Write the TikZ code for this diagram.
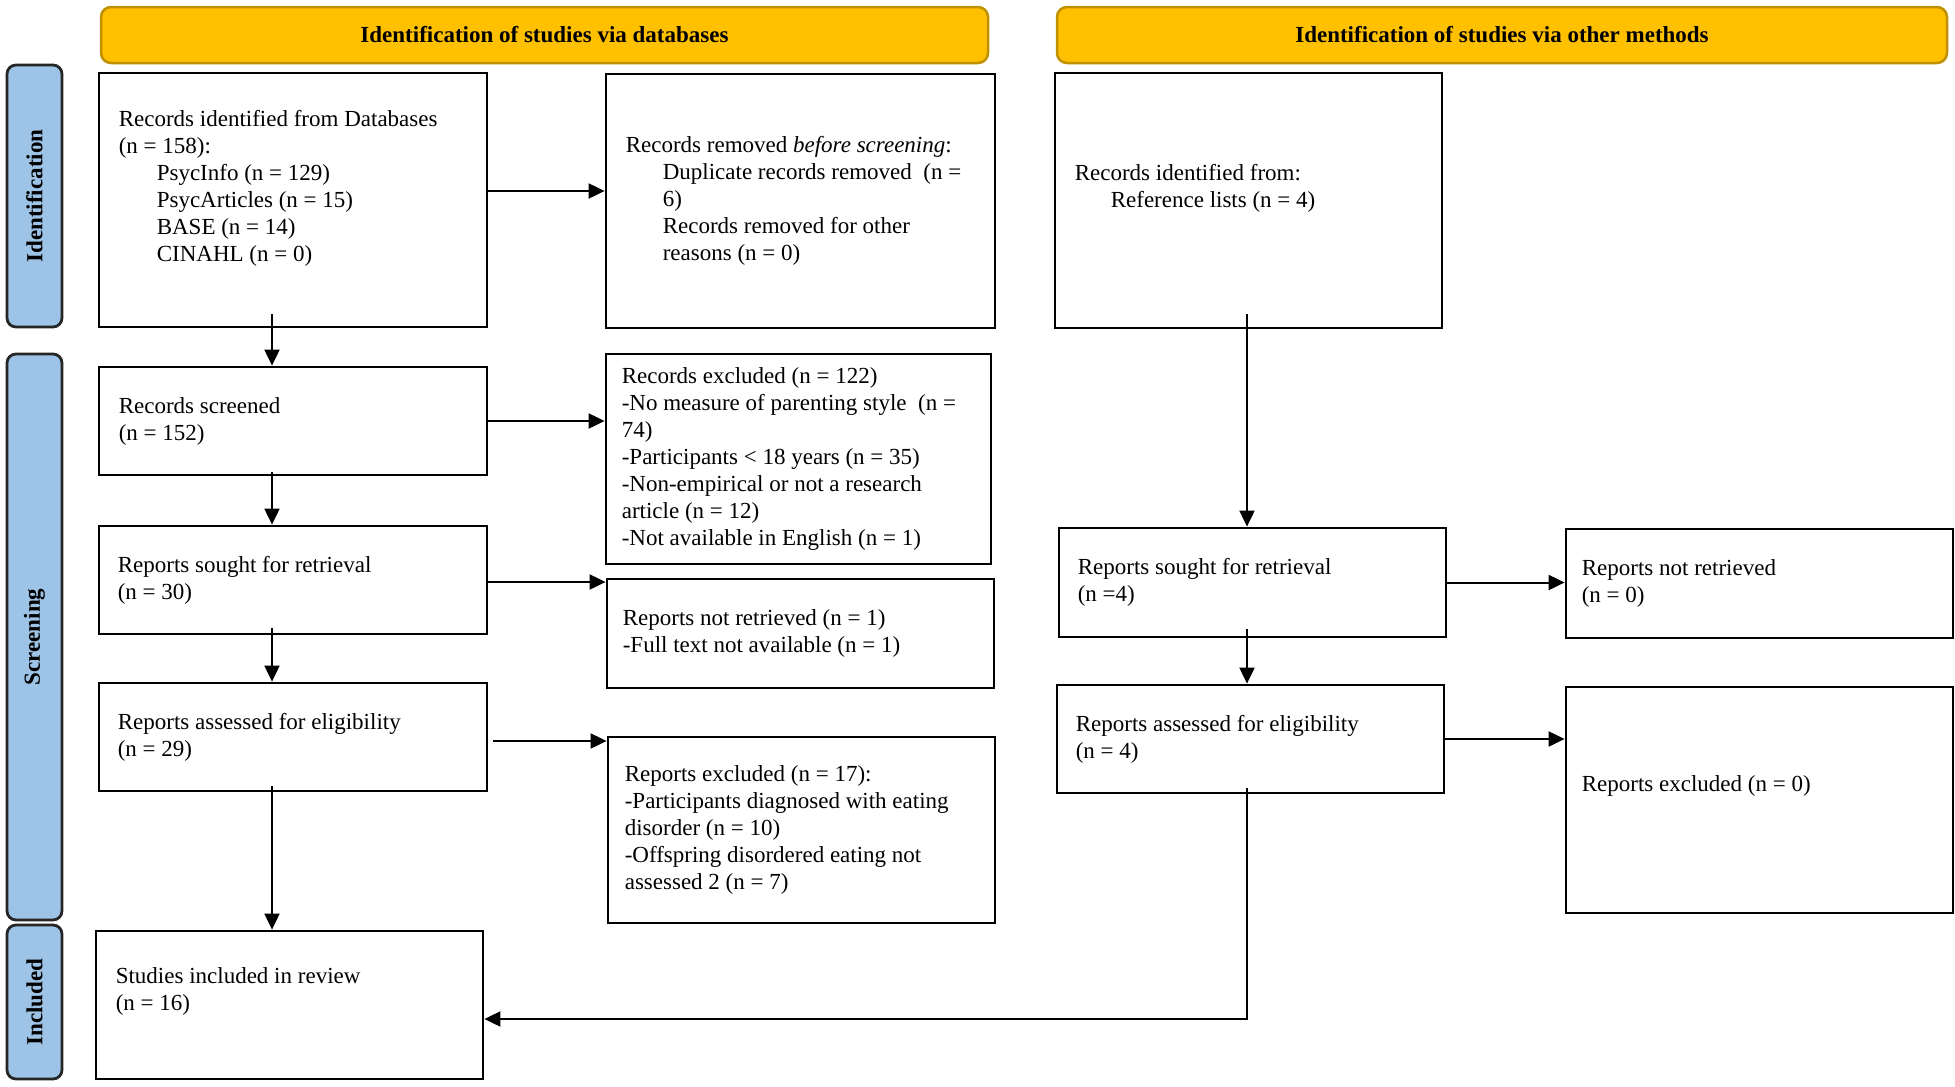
\documentclass[tikz,border=0pt]{standalone}
\usepackage{fontspec}
\setmainfont{Liberation Serif}
\usetikzlibrary{arrows.meta,calc}
\definecolor{gold}{HTML}{FFC000}
\definecolor{golddark}{HTML}{BF9000}
\definecolor{sideblue}{HTML}{9DC3E6}
\begin{document}
\begin{tikzpicture}[x=1pt,y=-1pt,
  box/.style={draw=black, line width=2.8pt, rectangle, inner sep=0pt},
  txt/.style={inner sep=0pt, align=left, anchor=west, font=\fontsize{23}{27}\selectfont},
  header/.style={draw=golddark, fill=gold, line width=2.5pt, rounded corners=10pt, inner sep=0pt, minimum height=56pt, font=\bfseries\fontsize{23}{27}\selectfont},
  side/.style={draw=black!85, fill=sideblue, line width=2.8pt, rounded corners=9pt, inner sep=0pt, minimum width=55pt, font=\bfseries\fontsize{23}{27}\selectfont},
  arr/.style={line width=2pt, -{Triangle[length=16pt,width=15pt]}}]
\useasboundingbox (0,0) rectangle (1955,1087);

% headers
\node[header, minimum width=887pt] (H1) at (544.5,35) {Identification of studies via databases};
\node[header, minimum width=890pt] (H2) at (1502,35) {Identification of studies via other methods};

% side bars
\node[side, minimum height=262pt] (L1) at (34.5,196) {\rotatebox{90}{Identification}};
\node[side, minimum height=566pt] (L2) at (34.5,637) {\rotatebox{90}{Screening}};
\node[side, minimum height=154pt] (L3) at (34.5,1002) {\rotatebox{90}{Included}};

% boxes
\node[box, minimum width=388pt, minimum height=254pt] (A) at (293,200) {};
\node[box, minimum width=389pt, minimum height=254pt] (B) at (800.5,201) {};
\node[box, minimum width=387pt, minimum height=255pt] (C) at (1248.5,200.5) {};
\node[box, minimum width=388pt, minimum height=108pt] (S) at (293,421) {};
\node[box, minimum width=385pt, minimum height=210pt] (E) at (798.5,459) {};
\node[box, minimum width=388pt, minimum height=108pt] (R) at (293,580) {};
\node[box, minimum width=387pt, minimum height=109pt] (N) at (800.5,633.5) {};
\node[box, minimum width=388pt, minimum height=108pt] (AS) at (293,737) {};
\node[box, minimum width=387pt, minimum height=186pt] (X) at (801.5,830) {};
\node[box, minimum width=387pt, minimum height=148pt] (I) at (289.5,1005) {};
\node[box, minimum width=387pt, minimum height=109pt] (RS) at (1252.5,582.5) {};
\node[box, minimum width=387pt, minimum height=109pt] (RN) at (1759.5,583.5) {};
\node[box, minimum width=387pt, minimum height=108pt] (RA) at (1250.5,739) {};
\node[box, minimum width=387pt, minimum height=226pt] (RX) at (1759.5,800) {};

% texts
\node[txt] (At) at ($(A.west)+(21,-12)$) {Records identified from Databases\\(n = 158):\\\hspace*{38pt}PsycInfo (n = 129)\\\hspace*{38pt}PsycArticles (n = 15)\\\hspace*{38pt}BASE (n = 14)\\\hspace*{38pt}CINAHL (n = 0)};
\node[txt] (Bt) at ($(B.west)+(21,0)$) {Records removed \textit{before screening}:\\\hspace*{37pt}Duplicate records removed\ \ (n =\\\hspace*{37pt}6)\\\hspace*{37pt}Records removed for other\\\hspace*{37pt}reasons (n = 0)};
\node[txt] (Ct) at ($(C.west)+(21,-12)$) {Records identified from:\\\hspace*{36pt}Reference lists (n = 4)};
\node[txt] (St) at ($(S.west)+(21,0)$) {Records screened\\(n = 152)};
\node[txt] (Et) at ($(E.west)+(17,0)$) {Records excluded (n = 122)\\-No measure of parenting style\ \ (n =\\74)\\-Participants < 18 years (n = 35)\\-Non-empirical or not a research\\article (n = 12)\\-Not available in English (n = 1)};
\node[txt] (Rt) at ($(R.west)+(20,0)$) {Reports sought for retrieval\\(n = 30)};
\node[txt] (Nt) at ($(N.west)+(17,0)$) {Reports not retrieved (n = 1)\\-Full text not available (n = 1)};
\node[txt] (ASt) at ($(AS.west)+(20,0)$) {Reports assessed for eligibility\\(n = 29)};
\node[txt] (Xt) at ($(X.west)+(18,0)$) {Reports excluded (n = 17):\\-Participants diagnosed with eating\\disorder (n = 10)\\-Offspring disordered eating not\\assessed 2 (n = 7)};
\node[txt] (It) at ($(I.west)+(21,-14)$) {Studies included in review\\(n = 16)};
\node[txt] (RSt) at ($(RS.west)+(20,0)$) {Reports sought for retrieval\\(n =4)};
\node[txt] (RNt) at ($(RN.west)+(17,0)$) {Reports not retrieved\\(n = 0)};
\node[txt] (RAt) at ($(RA.west)+(20,0)$) {Reports assessed for eligibility\\(n = 4)};
\node[txt] (RXt) at ($(RX.west)+(17,-14)$) {Reports excluded (n = 0)};

% columns for vertical connectors
\coordinate (colL) at (272,0);
\coordinate (colR) at (1247,0);

% connectors
\draw[arr] ($(A.east)+(0,-9)$) -- ($(A.east -| B.west)+(0,-9)$);
\draw[arr] ($(A.south -| colL)+(0,-14)$) -- (S.north -| colL);
\draw[arr] (S.east) -- (S.east -| E.west);
\draw[arr] ($(S.south -| colL)+(0,-4)$) -- (R.north -| colL);
\draw[arr] ($(R.east)+(0,2)$) -- ($(R.east -| N.west)+(0,2)$);
\draw[arr] ($(R.south -| colL)+(0,-7)$) -- (AS.north -| colL);
\draw[arr] ($(AS.east)+(5,4)$) -- ($(AS.east -| X.west)+(0,4)$);
\draw[arr] ($(AS.south -| colL)+(0,-6)$) -- (I.north -| colL);
\draw[arr] ($(C.south -| colR)+(0,-15)$) -- (RS.north -| colR);
\draw[arr] (RS.east) -- (RS.east -| RN.west);
\draw[arr] ($(RS.south -| colR)+(0,-9)$) -- (RA.north -| colR);
\draw[arr] (RA.east) -- (RA.east -| RX.west);
\draw[arr] ($(RA.south -| colR)+(0,-6)$) |- ($(I.east)+(0,14)$);
\end{tikzpicture}
\end{document}
